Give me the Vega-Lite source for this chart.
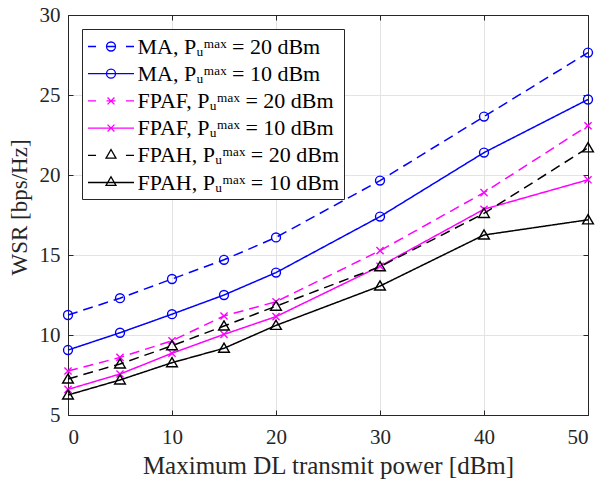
{
  "$schema": "https://vega.github.io/schema/vega-lite/v6.json",
  "width": 520,
  "height": 400,
  "autosize": {"type": "none"},
  "padding": {"left": 68, "top": 15, "right": 14, "bottom": 64},
  "background": "white",
  "config": {
    "view": {"stroke": null},
    "font": "Liberation Serif, Times New Roman, serif",
    "axis": {
      "domainColor": "#262626",
      "tickColor": "#262626",
      "labelColor": "#262626",
      "titleColor": "#262626",
      "gridColor": "#e3e3e3",
      "labelFont": "Liberation Serif, Times New Roman, serif",
      "titleFont": "Liberation Serif, Times New Roman, serif",
      "labelFontSize": 21,
      "titleFontSize": 25,
      "titleFontWeight": "normal",
      "tickSize": -5
    },
    "legend": {"labelFont": "Liberation Serif, Times New Roman, serif"}
  },
  "data": {"values": [
    {"x": 0, "y": 11.25, "series": "MA, Pᵤᵐᵃˣ = 20 dBm"},
    {"x": 5, "y": 12.3, "series": "MA, Pᵤᵐᵃˣ = 20 dBm"},
    {"x": 10, "y": 13.5, "series": "MA, Pᵤᵐᵃˣ = 20 dBm"},
    {"x": 15, "y": 14.7, "series": "MA, Pᵤᵐᵃˣ = 20 dBm"},
    {"x": 20, "y": 16.1, "series": "MA, Pᵤᵐᵃˣ = 20 dBm"},
    {"x": 30, "y": 19.65, "series": "MA, Pᵤᵐᵃˣ = 20 dBm"},
    {"x": 40, "y": 23.65, "series": "MA, Pᵤᵐᵃˣ = 20 dBm"},
    {"x": 50, "y": 27.65, "series": "MA, Pᵤᵐᵃˣ = 20 dBm"},
    {"x": 0, "y": 9.06, "series": "MA, Pᵤᵐᵃˣ = 10 dBm"},
    {"x": 5, "y": 10.14, "series": "MA, Pᵤᵐᵃˣ = 10 dBm"},
    {"x": 10, "y": 11.3, "series": "MA, Pᵤᵐᵃˣ = 10 dBm"},
    {"x": 15, "y": 12.5, "series": "MA, Pᵤᵐᵃˣ = 10 dBm"},
    {"x": 20, "y": 13.9, "series": "MA, Pᵤᵐᵃˣ = 10 dBm"},
    {"x": 30, "y": 17.4, "series": "MA, Pᵤᵐᵃˣ = 10 dBm"},
    {"x": 40, "y": 21.4, "series": "MA, Pᵤᵐᵃˣ = 10 dBm"},
    {"x": 50, "y": 24.72, "series": "MA, Pᵤᵐᵃˣ = 10 dBm"},
    {"x": 0, "y": 7.75, "series": "FPAF, Pᵤᵐᵃˣ = 20 dBm"},
    {"x": 5, "y": 8.6, "series": "FPAF, Pᵤᵐᵃˣ = 20 dBm"},
    {"x": 10, "y": 9.64, "series": "FPAF, Pᵤᵐᵃˣ = 20 dBm"},
    {"x": 15, "y": 11.19, "series": "FPAF, Pᵤᵐᵃˣ = 20 dBm"},
    {"x": 20, "y": 12.08, "series": "FPAF, Pᵤᵐᵃˣ = 20 dBm"},
    {"x": 30, "y": 15.27, "series": "FPAF, Pᵤᵐᵃˣ = 20 dBm"},
    {"x": 40, "y": 18.9, "series": "FPAF, Pᵤᵐᵃˣ = 20 dBm"},
    {"x": 50, "y": 23.08, "series": "FPAF, Pᵤᵐᵃˣ = 20 dBm"},
    {"x": 0, "y": 6.6, "series": "FPAF, Pᵤᵐᵃˣ = 10 dBm"},
    {"x": 5, "y": 7.56, "series": "FPAF, Pᵤᵐᵃˣ = 10 dBm"},
    {"x": 10, "y": 8.86, "series": "FPAF, Pᵤᵐᵃˣ = 10 dBm"},
    {"x": 15, "y": 10.04, "series": "FPAF, Pᵤᵐᵃˣ = 10 dBm"},
    {"x": 20, "y": 11.15, "series": "FPAF, Pᵤᵐᵃˣ = 10 dBm"},
    {"x": 30, "y": 14.3, "series": "FPAF, Pᵤᵐᵃˣ = 10 dBm"},
    {"x": 40, "y": 17.86, "series": "FPAF, Pᵤᵐᵃˣ = 10 dBm"},
    {"x": 50, "y": 19.7, "series": "FPAF, Pᵤᵐᵃˣ = 10 dBm"},
    {"x": 0, "y": 7.25, "series": "FPAH, Pᵤᵐᵃˣ = 20 dBm"},
    {"x": 5, "y": 8.19, "series": "FPAH, Pᵤᵐᵃˣ = 20 dBm"},
    {"x": 10, "y": 9.33, "series": "FPAH, Pᵤᵐᵃˣ = 20 dBm"},
    {"x": 15, "y": 10.56, "series": "FPAH, Pᵤᵐᵃˣ = 20 dBm"},
    {"x": 20, "y": 11.8, "series": "FPAH, Pᵤᵐᵃˣ = 20 dBm"},
    {"x": 30, "y": 14.27, "series": "FPAH, Pᵤᵐᵃˣ = 20 dBm"},
    {"x": 40, "y": 17.6, "series": "FPAH, Pᵤᵐᵃˣ = 20 dBm"},
    {"x": 50, "y": 21.7, "series": "FPAH, Pᵤᵐᵃˣ = 20 dBm"},
    {"x": 0, "y": 6.25, "series": "FPAH, Pᵤᵐᵃˣ = 10 dBm"},
    {"x": 5, "y": 7.19, "series": "FPAH, Pᵤᵐᵃˣ = 10 dBm"},
    {"x": 10, "y": 8.27, "series": "FPAH, Pᵤᵐᵃˣ = 10 dBm"},
    {"x": 15, "y": 9.17, "series": "FPAH, Pᵤᵐᵃˣ = 10 dBm"},
    {"x": 20, "y": 10.6, "series": "FPAH, Pᵤᵐᵃˣ = 10 dBm"},
    {"x": 30, "y": 13.06, "series": "FPAH, Pᵤᵐᵃˣ = 10 dBm"},
    {"x": 40, "y": 16.25, "series": "FPAH, Pᵤᵐᵃˣ = 10 dBm"},
    {"x": 50, "y": 17.2, "series": "FPAH, Pᵤᵐᵃˣ = 10 dBm"}
  ]},
  "resolve": {
    "scale": {"shape": "independent", "stroke": "independent"},
    "axis": {"x": "independent", "y": "independent"},
    "legend": {"shape": "independent", "stroke": "independent"}
  },
  "layer": [
    {
      "mark": {"type": "line", "strokeWidth": 1.5, "clip": false},
      "encoding": {
        "x": {"field": "x", "type": "quantitative", "scale": {"domain": [0, 50], "nice": false},
          "axis": {"values": [0, 10, 20, 30, 40, 50], "grid": true, "title": "Maximum DL transmit power [dBm]", "labelPadding": 16, "titlePadding": 6}},
        "y": {"field": "y", "type": "quantitative", "scale": {"domain": [5, 30], "nice": false, "zero": false},
          "axis": {"values": [5, 10, 15, 20, 25, 30], "grid": true, "title": "WSR [bps/Hz]", "titleFontSize": 23, "titleY": 192, "labelPadding": 13, "titlePadding": 8}},
        "color": {"field": "series", "type": "nominal", "legend": null,
          "scale": {"domain": ["MA, Pᵤᵐᵃˣ = 20 dBm", "MA, Pᵤᵐᵃˣ = 10 dBm", "FPAF, Pᵤᵐᵃˣ = 20 dBm", "FPAF, Pᵤᵐᵃˣ = 10 dBm", "FPAH, Pᵤᵐᵃˣ = 20 dBm", "FPAH, Pᵤᵐᵃˣ = 10 dBm"],
            "range": ["#0000ff", "#0000ff", "#ff00ff", "#ff00ff", "#000000", "#000000"]}},
        "strokeDash": {"field": "series", "type": "nominal", "legend": null,
          "scale": {"domain": ["MA, Pᵤᵐᵃˣ = 20 dBm", "MA, Pᵤᵐᵃˣ = 10 dBm", "FPAF, Pᵤᵐᵃˣ = 20 dBm", "FPAF, Pᵤᵐᵃˣ = 10 dBm", "FPAH, Pᵤᵐᵃˣ = 20 dBm", "FPAH, Pᵤᵐᵃˣ = 10 dBm"],
            "range": [[10, 6], [1, 0], [10, 6], [1, 0], [10, 6], [1, 0]]}}
      }
    },
    {
      "mark": {"type": "point", "filled": false, "strokeWidth": 1.4, "size": 80, "opacity": 1, "clip": false},
      "encoding": {
        "x": {"field": "x", "type": "quantitative", "axis": null},
        "y": {"field": "y", "type": "quantitative", "axis": null},
        "color": {"field": "series", "type": "nominal", "legend": null},
        "shape": {"field": "series", "type": "nominal", "legend": null,
          "scale": {"domain": ["MA, Pᵤᵐᵃˣ = 20 dBm", "MA, Pᵤᵐᵃˣ = 10 dBm", "FPAF, Pᵤᵐᵃˣ = 20 dBm", "FPAF, Pᵤᵐᵃˣ = 10 dBm", "FPAH, Pᵤᵐᵃˣ = 20 dBm", "FPAH, Pᵤᵐᵃˣ = 10 dBm"],
            "range": ["circle", "circle", "M-0.8,-0.8L0.8,0.8M-0.8,0.8L0.8,-0.8", "M-0.8,-0.8L0.8,0.8M-0.8,0.8L0.8,-0.8", "M0,-1.15L1.2,0.9L-1.2,0.9Z", "M0,-1.15L1.2,0.9L-1.2,0.9Z"]}}
      }
    },
    {
      "mark": {"type": "point", "filled": false, "size": 529, "opacity": 0, "strokeWidth": 1.3, "clip": false},
      "encoding": {
        "x": {"field": "x", "type": "quantitative",
          "axis": {"orient": "top", "values": [0, 10, 20, 30, 40, 50], "labels": false, "grid": false, "title": null}},
        "y": {"field": "y", "type": "quantitative",
          "axis": {"orient": "right", "values": [5, 10, 15, 20, 25, 30], "labels": false, "grid": false, "title": null}},
        "stroke": {"field": "series", "type": "nominal",
          "scale": {"domain": ["MA, Pᵤᵐᵃˣ = 20 dBm", "MA, Pᵤᵐᵃˣ = 10 dBm", "FPAF, Pᵤᵐᵃˣ = 20 dBm", "FPAF, Pᵤᵐᵃˣ = 10 dBm", "FPAH, Pᵤᵐᵃˣ = 20 dBm", "FPAH, Pᵤᵐᵃˣ = 10 dBm"],
            "range": ["#0000ff", "#0000ff", "#ff00ff", "#ff00ff", "#000000", "#000000"]},
          "legend": {
            "title": null,
            "orient": "none",
            "legendX": 14,
            "legendY": 14,
            "padding": 5,
            "strokeColor": "#262626",
            "fillColor": "white",
            "labelFont": "Liberation Serif, Times New Roman, serif",
            "labelFontSize": 22,
            "labelColor": "#000000",
            "labelLimit": 400,
            "symbolSize": 529,
            "symbolOffset": 11.5,
            "symbolStrokeWidth": 1.3,
            "symbolOpacity": 1,
            "labelOffset": 14,
            "rowPadding": 3.2
          }
        },
        "shape": {"field": "series", "type": "nominal",
          "scale": {"domain": ["MA, Pᵤᵐᵃˣ = 20 dBm", "MA, Pᵤᵐᵃˣ = 10 dBm", "FPAF, Pᵤᵐᵃˣ = 20 dBm", "FPAF, Pᵤᵐᵃˣ = 10 dBm", "FPAH, Pᵤᵐᵃˣ = 20 dBm", "FPAH, Pᵤᵐᵃˣ = 10 dBm"],
            "range": [
              "M-2,0H-1.3M-0.39,0H0.39M1.3,0H2M0.39,0A0.39,0.39,0,1,1,-0.39,0A0.39,0.39,0,1,1,0.39,0",
              "M-2,0H2M0.39,0A0.39,0.39,0,1,1,-0.39,0A0.39,0.39,0,1,1,0.39,0",
              "M-2,0H-1.3M-0.39,0H0.39M1.3,0H2M-0.3,-0.3L0.3,0.3M-0.3,0.3L0.3,-0.3",
              "M-2,0H2M-0.3,-0.3L0.3,0.3M-0.3,0.3L0.3,-0.3",
              "M-2,0H-1.3M1.3,0H2M0,-0.5L0.43,0.25L-0.43,0.25Z",
              "M-2,0H2M0,-0.5L0.43,0.25L-0.43,0.25Z"
            ]},
          "legend": {
            "title": null,
            "orient": "none",
            "legendX": 14,
            "legendY": 14,
            "padding": 5,
            "strokeColor": "#262626",
            "fillColor": "white",
            "labelFont": "Liberation Serif, Times New Roman, serif",
            "labelFontSize": 22,
            "labelColor": "#000000",
            "labelLimit": 400,
            "symbolSize": 529,
            "symbolOffset": 11.5,
            "symbolStrokeWidth": 1.3,
            "symbolOpacity": 1,
            "labelOffset": 14,
            "rowPadding": 3.2
          }
        }
      }
    }
  ]
}
